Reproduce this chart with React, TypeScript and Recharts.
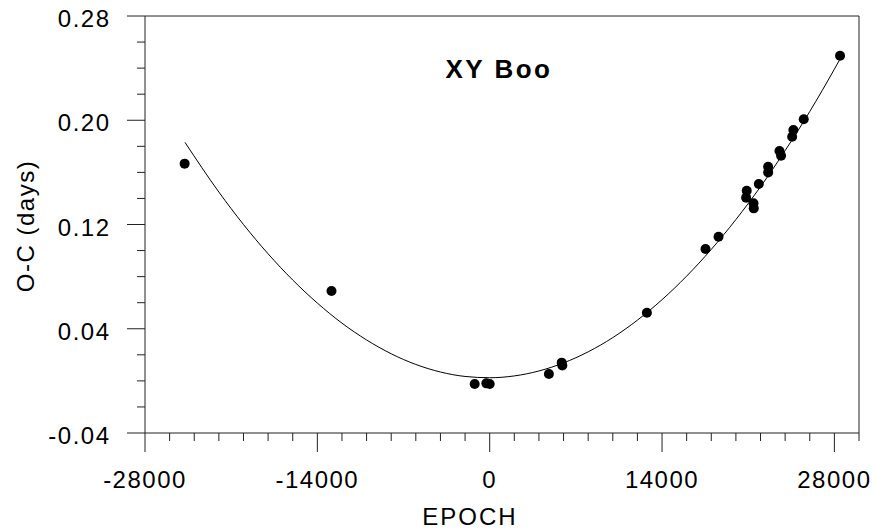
import { ComposedChart, Scatter, Line, XAxis, YAxis, ReferenceLine } from "recharts";

// observed times of minima: epoch and O-C (days)
const obsEpoch = [-24780, -12850, -1220, -270, 0, 4810, 5850, 5900, 12770, 17530, 18590, 20880, 20830, 21430, 21450, 21860, 22620, 22620, 23540, 23670, 24670, 24570, 25510, 28460];
const obsOC = [0.1667, 0.069, -0.0024, -0.0019, -0.0024, 0.0053, 0.014, 0.0118, 0.0523, 0.1012, 0.1106, 0.1459, 0.1406, 0.1363, 0.1324, 0.1511, 0.1643, 0.16, 0.1764, 0.1728, 0.1925, 0.1874, 0.2007, 0.2495];

// quadratic ephemeris curve
const fitEpoch = [-24750, -22000, -20000, -18000, -16000, -14000, -12000, -10000, -8000, -6000, -4000, -2000, 0, 2000, 4000, 6000, 8000, 10000, 12000, 14000, 16000, 18000, 20000, 22000, 24000, 26000, 28000, 28450];
const fitOC = [0.183, 0.1449, 0.12, 0.0975, 0.0774, 0.0597, 0.0443, 0.0314, 0.0208, 0.0126, 0.0068, 0.0034, 0.0024, 0.0038, 0.0076, 0.0138, 0.0223, 0.0332, 0.0466, 0.0623, 0.0804, 0.1009, 0.1238, 0.149, 0.1767, 0.2067, 0.2392, 0.2468];

const xTicks = [-28000, -26000, -24000, -22000, -20000, -18000, -16000, -14000, -12000, -10000, -8000, -6000, -4000, -2000, 0, 2000, 4000, 6000, 8000, 10000, 12000, 14000, 16000, 18000, 20000, 22000, 24000, 26000, 28000, 30000];
const xLabels = [-28000, -14000, 0, 14000, 28000];
const yTicks = [-0.04, -0.02, 0, 0.02, 0.04, 0.06, 0.08, 0.1, 0.12, 0.14, 0.16, 0.18, 0.2, 0.22, 0.24, 0.26, 0.28];
const yLabels = [-0.04, 0.04, 0.12, 0.2, 0.28];

const points = obsEpoch.map((e, i) => ({ epoch: e, oc: obsOC[i] }));
const curve = fitEpoch.map((e, i) => ({ epoch: e, oc: fitOC[i] }));

const FONT = "'Liberation Sans', Arial, sans-serif";
const AXIS = "#222";

function XTick({ x, y, payload }: any) {
  const major = xLabels.includes(payload.value);
  return (
    <g>
      <line x1={x} x2={x} y1={y} y2={y + (major ? 19 : 8)} stroke={AXIS} />
      {major && (
        <text x={x} y={y + 55} textAnchor="middle" fontFamily={FONT} fontSize={24} letterSpacing={1.5} fill="#000">
          {payload.value}
        </text>
      )}
    </g>
  );
}

function YTick({ x, y, payload }: any) {
  const major = yLabels.some(v => Math.abs(v - payload.value) < 1e-6);
  return (
    <g>
      <line x1={x} x2={x - (major ? 18 : 8)} y1={y} y2={y} stroke={AXIS} />
      {major && (
        <text x={x - 34.5} y={y + 11} textAnchor="end" fontFamily={FONT} fontSize={24} letterSpacing={1.5} fill="#000">
          {payload.value.toFixed(2)}
        </text>
      )}
    </g>
  );
}

function Dot({ cx, cy }: any) {
  return <circle cx={cx} cy={cy} r={5} fill="#000" />;
}

export default function App() {
  return (
    <div style={{ position: "absolute", left: 0, top: 0, background: "#fff" }}>
      <ComposedChart width={873} height={530} margin={{ top: 16, right: 14, left: 0, bottom: 0 }}>
        <XAxis
          dataKey="epoch"
          type="number"
          domain={[-28000, 30000]}
          ticks={xTicks}
          interval={0}
          tickSize={0}
          tickMargin={0}
          tick={<XTick />}
          height={97}
          axisLine={{ stroke: AXIS }}
          allowDataOverflow
        />
        <YAxis
          type="number"
          domain={[-0.04, 0.28]}
          ticks={yTicks}
          interval={0}
          tickSize={0}
          tickMargin={0}
          tick={<YTick />}
          width={145}
          axisLine={{ stroke: AXIS }}
          allowDataOverflow
        />
        <ReferenceLine y={0.28} stroke={AXIS} />
        <ReferenceLine x={30000} stroke={AXIS} />
        <Line data={curve} dataKey="oc" type="monotone" stroke="#000" strokeWidth={1} dot={false} activeDot={false} isAnimationActive={false} />
        <Scatter data={points} dataKey="oc" shape={<Dot />} isAnimationActive={false} />
        <text x={499} y={78} textAnchor="middle" fontFamily={FONT} fontSize={26} fontWeight="bold" letterSpacing={2.5} fill="#000">
          XY Boo
        </text>
        <text x={470} y={525} textAnchor="middle" fontFamily={FONT} fontSize={24} letterSpacing={2} fill="#000">
          EPOCH
        </text>
        <text transform="translate(34 226) rotate(-90)" textAnchor="middle" fontFamily={FONT} fontSize={24} letterSpacing={1.5} fill="#000">
          O-C (days)
        </text>
      </ComposedChart>
    </div>
  );
}
